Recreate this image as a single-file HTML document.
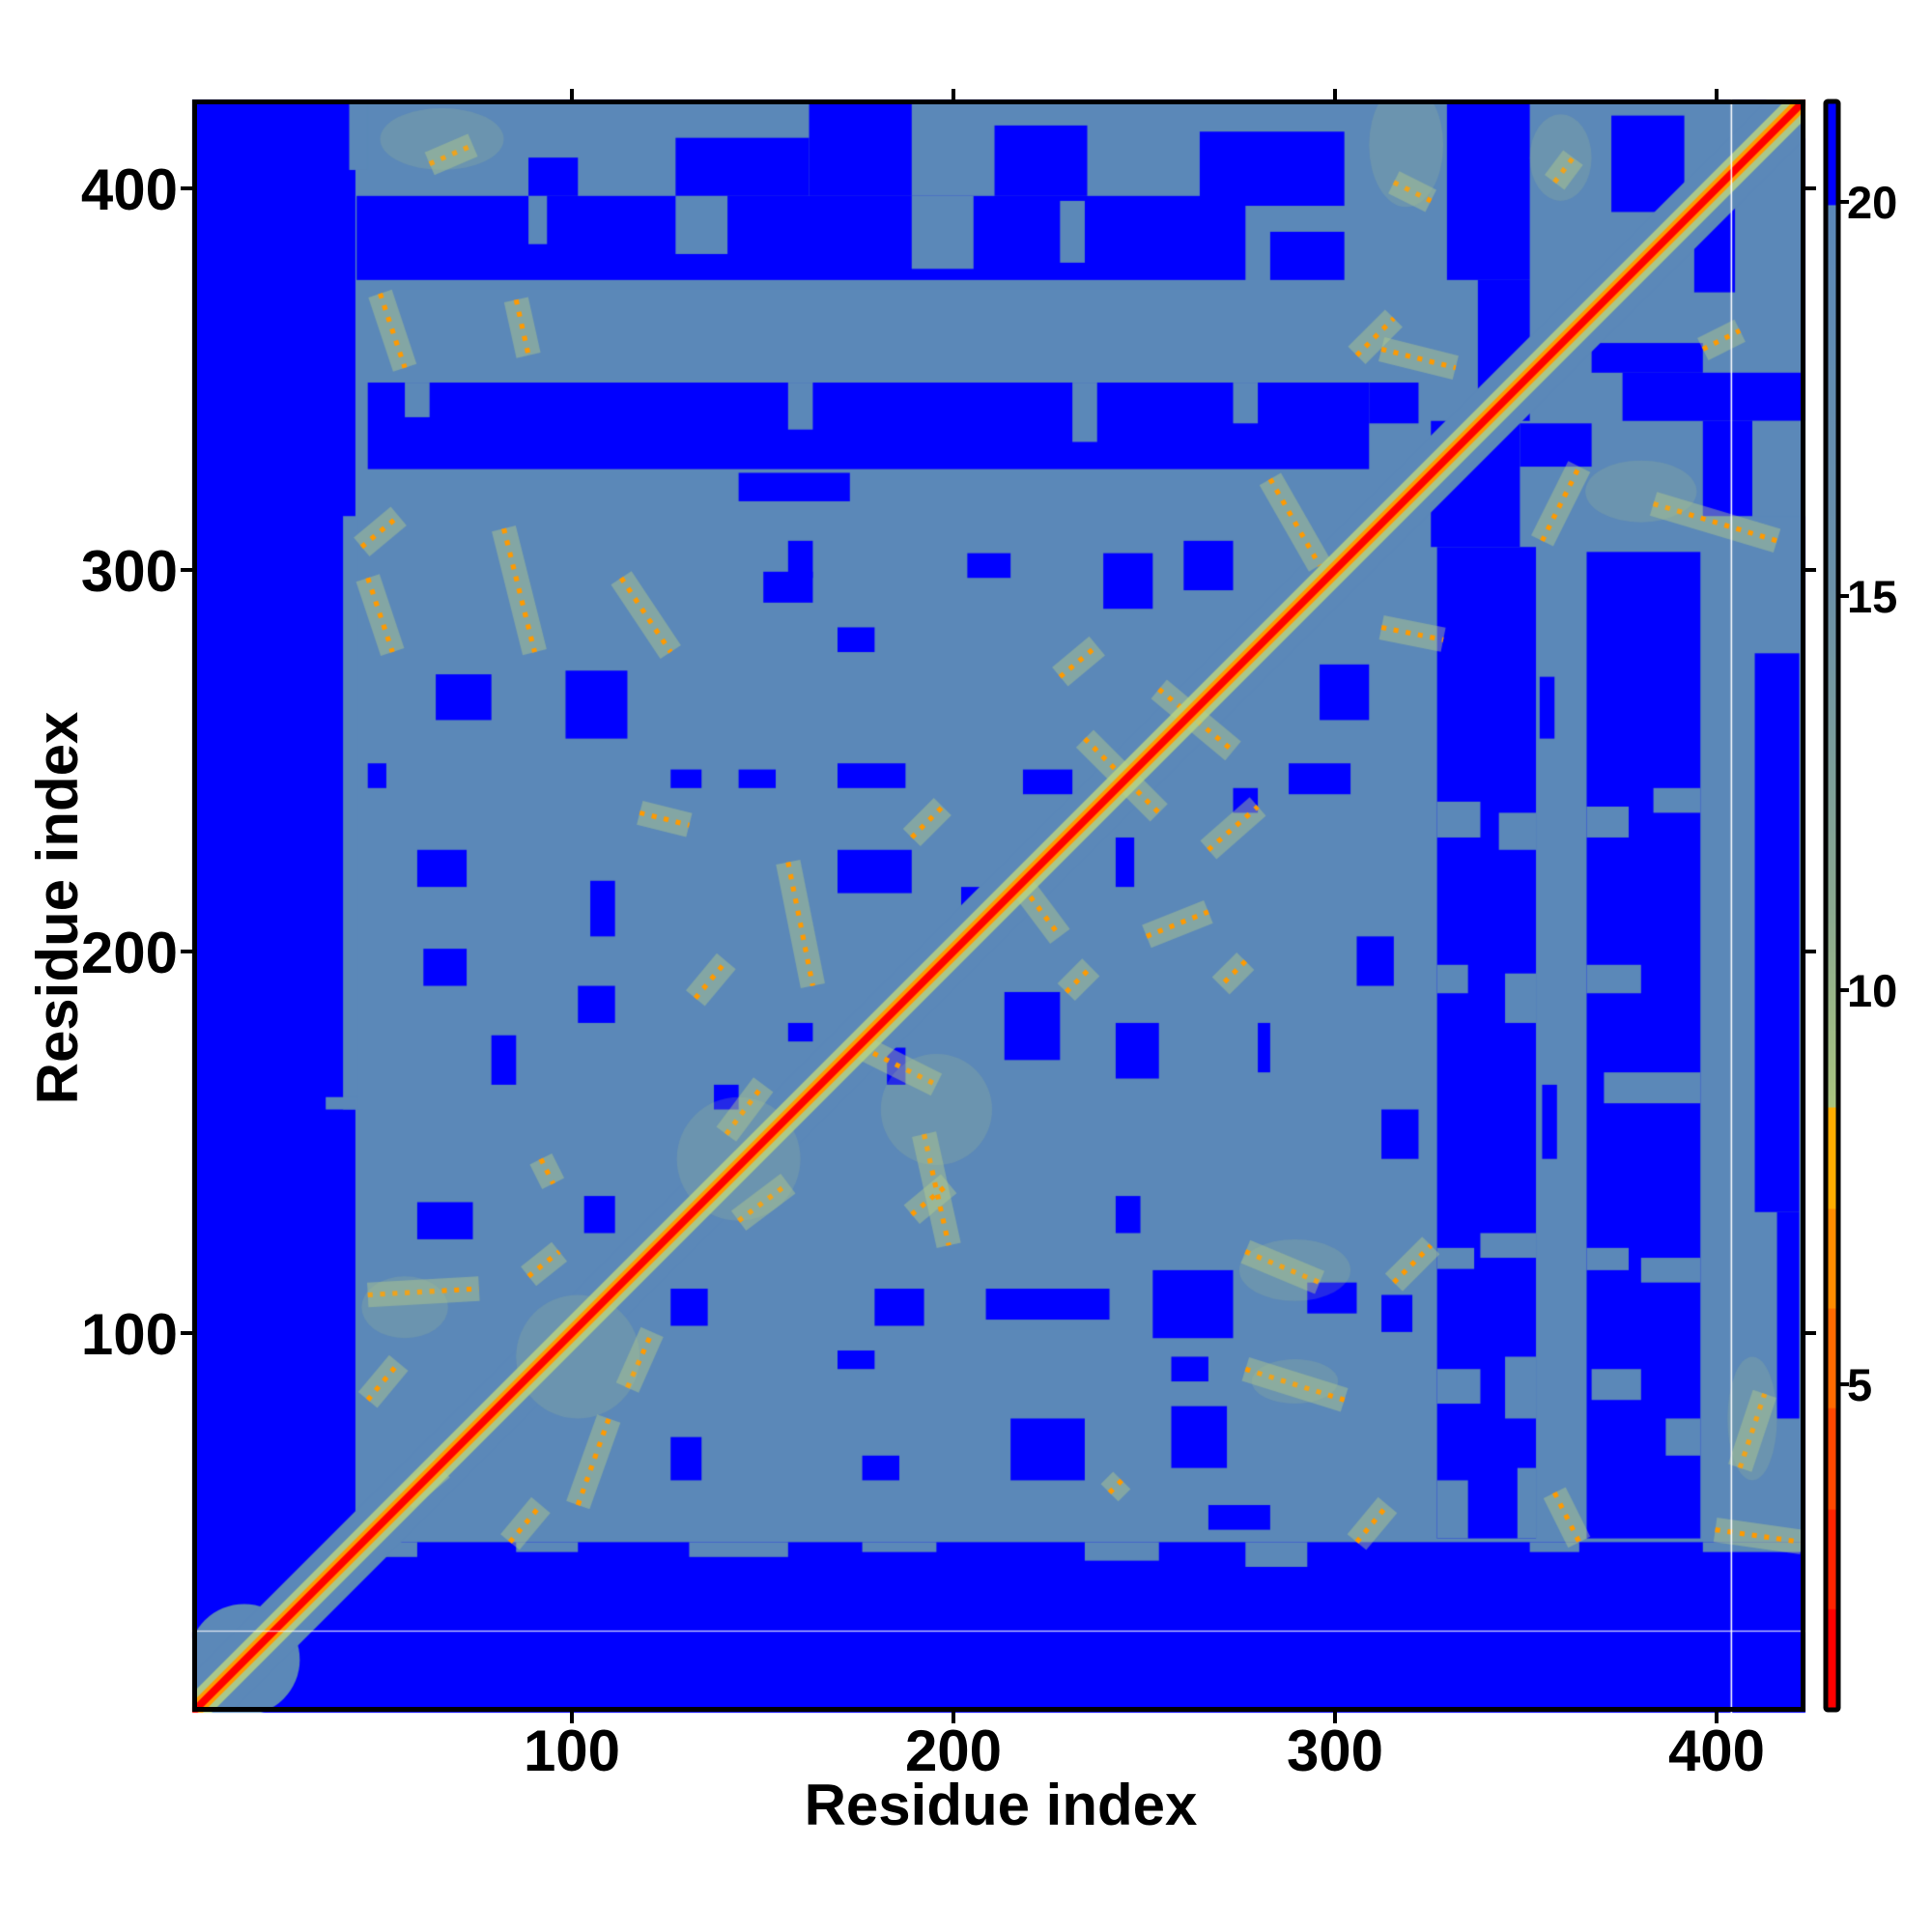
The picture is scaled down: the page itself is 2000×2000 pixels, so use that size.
<!DOCTYPE html>
<html><head><meta charset="utf-8">
<style>
html,body{margin:0;padding:0;background:#fff;}
#wrap{position:relative;width:2000px;height:2000px;overflow:hidden;background:#fff;}
canvas{position:absolute;left:0;top:0;}
svg{position:absolute;left:0;top:0;}
</style></head>
<body><div id="wrap">
<canvas id="c" width="2000" height="2000"></canvas>
<svg width="2000" height="2000" viewBox="0 0 2000 2000" xmlns="http://www.w3.org/2000/svg" font-family="Liberation Sans, Arial, sans-serif" font-weight="bold">
<defs>
<linearGradient id="cb" x1="0" y1="0" x2="0" y2="1">
<stop offset="0" stop-color="#0000ff"/>
<stop offset="0.064" stop-color="#0000ff"/>
<stop offset="0.065" stop-color="#5b88b8"/>
<stop offset="0.3" stop-color="#6a90a8"/>
<stop offset="0.5" stop-color="#8aa890"/>
<stop offset="0.625" stop-color="#a9c47f"/>
<stop offset="0.626" stop-color="#ffad00"/>
<stop offset="0.688" stop-color="#ffad00"/>
<stop offset="0.689" stop-color="#ff8c00"/>
<stop offset="0.75" stop-color="#ff8c00"/>
<stop offset="0.751" stop-color="#ff6a00"/>
<stop offset="0.812" stop-color="#ff6a00"/>
<stop offset="0.813" stop-color="#ff4800"/>
<stop offset="0.875" stop-color="#ff4800"/>
<stop offset="0.876" stop-color="#ff2400"/>
<stop offset="0.937" stop-color="#ff2400"/>
<stop offset="0.938" stop-color="#ff0000"/>
<stop offset="1" stop-color="#ff0000"/>
</linearGradient>
</defs>
<rect x="201.5" y="105.5" width="1665" height="1664" fill="none" stroke="#000" stroke-width="5"/>
<rect x="1890" y="105" width="13" height="1665" fill="url(#cb)" stroke="#000" stroke-width="5" rx="2"/>
<g stroke="#000" stroke-width="4">
<line x1="592" y1="1772" x2="592" y2="1784"/><line x1="987" y1="1772" x2="987" y2="1784"/><line x1="1382" y1="1772" x2="1382" y2="1784"/><line x1="1777" y1="1772" x2="1777" y2="1784"/>
<line x1="592" y1="103" x2="592" y2="92"/><line x1="987" y1="103" x2="987" y2="92"/><line x1="1382" y1="103" x2="1382" y2="92"/><line x1="1777" y1="103" x2="1777" y2="92"/>
<line x1="187" y1="1380" x2="199" y2="1380"/><line x1="187" y1="985" x2="199" y2="985"/><line x1="187" y1="590" x2="199" y2="590"/><line x1="187" y1="195" x2="199" y2="195"/>
<line x1="1869" y1="1380" x2="1880" y2="1380"/><line x1="1869" y1="985" x2="1880" y2="985"/><line x1="1869" y1="590" x2="1880" y2="590"/><line x1="1869" y1="195" x2="1880" y2="195"/>
<line x1="1905" y1="1433" x2="1914" y2="1433"/><line x1="1905" y1="1025" x2="1914" y2="1025"/><line x1="1905" y1="617" x2="1914" y2="617"/><line x1="1905" y1="209" x2="1914" y2="209"/>
</g>
<g font-size="60" fill="#000" text-anchor="middle">
<text x="592" y="1833">100</text><text x="987" y="1833">200</text><text x="1382" y="1833">300</text><text x="1777" y="1833">400</text>
</g>
<g font-size="60" fill="#000" text-anchor="end">
<text x="184" y="1402">100</text><text x="184" y="1007">200</text><text x="184" y="612">300</text><text x="184" y="217">400</text>
</g>
<g font-size="47" fill="#000" text-anchor="start">
<text x="1912" y="1450">5</text><text x="1912" y="1042">10</text><text x="1912" y="634">15</text><text x="1912" y="226">20</text>
</g>
<text x="1036" y="1889" font-size="60" text-anchor="middle">Residue index</text>
<text transform="translate(80,940) rotate(-90)" font-size="60" text-anchor="middle">Residue index</text>
</svg>
</div>
<script>
(function(){
var c=document.getElementById('c');var g=c.getContext('2d');
var s=1.2797;g.setTransform(s,0,0,s,199-158*s,103-83*s);
g.save();g.beginPath();g.rect(158,83,1305,1305);g.clip();
var BLUE='#0000ff',SB='#5b88b8';
g.fillStyle=BLUE;g.fillRect(158,83,1305,1305);
function R(a,col){g.fillStyle=col;for(var i=0;i<a.length;i++){var r=a[i];g.fillRect(r[0],r[1],r[2]-r[0],r[3]-r[1]);}}
R([[290,85,1460,1250],[285,85,300,140],[280,420,292,900],[266,890,292,900]],SB);
R([[300,1250,340,1262],[420,1250,470,1258],[560,1250,640,1262],[700,1250,760,1258],[880,1250,940,1265],[1010,1250,1060,1270],[1240,1250,1280,1258],[1380,1250,1460,1258]],SB);
R([[549,114,657,161],[657,83,740,161],[807,104,882,161],[973,109,1090,169],[1173,83,1240,229],[1306,96,1365,174],[1373,148,1406,239],[430,130,470,161],
[291,161,1010,229],[1030,190,1090,229],
[1198,229,1240,343],[1315,304,1463,343],[1290,280,1380,304],
[300,312,1110,382],[1110,312,1150,345],[600,385,690,408],
[1160,343,1232,445],[1232,345,1290,380],[1380,343,1420,420]],BLUE);
R([[549,161,591,208],[740,161,790,220],[430,161,445,200],[860,165,880,215],[640,312,660,350],[870,312,890,360],[1000,312,1020,345],[330,312,350,340],[1420,343,1463,420]],SB);
R([[1165,445,1245,1247],[1286,449,1378,1247],[1422,531,1458,983],[1440,983,1458,1150],[1248,550,1260,600],[1250,880,1262,940]],BLUE);
R([[1165,651,1200,680],[1215,660,1245,690],[1286,655,1320,680],[1340,640,1378,660],[1165,783,1190,806],[1220,790,1245,830],[1286,783,1330,806],[1300,870,1378,895],
[1165,1012,1195,1029],[1200,1000,1245,1020],[1286,1012,1320,1030],[1330,1020,1378,1040],[1165,1110,1200,1138],[1220,1100,1245,1150],[1290,1110,1330,1135],[1350,1150,1378,1180],[1165,1200,1190,1247],[1230,1190,1245,1247]],SB);
R([[355,548,400,585],[460,545,510,600],[895,450,935,495],[960,440,1000,480],[1070,540,1110,585],[680,510,710,530],[545,625,570,640],[600,625,630,640],[680,620,735,640],[830,625,870,645],[1045,620,1095,645],[680,690,740,725],[905,680,920,720],[480,715,500,760],[340,690,380,720],[815,805,860,860],[905,830,940,875],[470,800,500,830],[340,975,385,1005],[475,970,500,1000],[905,970,925,1000],[545,1045,575,1075],[710,1045,750,1075],[800,1045,900,1070],[935,1030,1000,1085],[1060,1040,1100,1065],[680,1095,710,1110],[545,1165,570,1200],[950,1140,995,1190],[620,465,660,490],[980,1220,1030,1240],[785,450,820,470],[400,840,420,880],[820,1150,880,1200],[640,440,660,470],[345,770,380,800],[300,620,315,640],[1020,830,1030,870],[1100,760,1130,800],[1120,900,1150,940],[700,1180,730,1200],[1000,640,1020,660],[580,880,600,900],[780,720,800,740],[640,830,660,845],[720,850,735,880],[950,1100,980,1120],[1120,1050,1145,1080]],BLUE);
g.fillStyle=SB;g.beginPath();g.ellipse(200,1345,45,45,0,0,Math.PI*2);g.fill();
g.lineCap='butt';
function L(x1,y1,x2,y2,w,col){g.strokeStyle=col;g.lineWidth=w;g.beginPath();g.moveTo(x1,y1);g.lineTo(x2,y2);g.stroke();}
L(150,1396,1471,75,44,SB);
var HC='rgba(180,205,140,0.45)';
var feats=[[295,445,325,420],[410,430,435,530],[505,470,545,530],[300,1135,325,1105],[415,1250,440,1220],[330,1215,360,1190],[470,1220,495,1150],[430,1035,455,1015],[510,1125,530,1080],[565,810,590,780],[600,990,640,960],[740,985,770,960],[865,805,885,785],[740,680,765,655],[860,550,890,525],[880,600,940,660],[940,560,1000,610],[980,690,1020,655],[1010,1110,1090,1135],[1010,1015,1070,1040],[1100,1250,1125,1220],[1120,285,1180,300],[1100,290,1130,260],[1250,440,1280,380],[1260,150,1275,130],[1380,285,1410,270],[1410,1190,1430,1130],[350,135,385,120],[1130,150,1160,165],[520,660,560,670],[900,1210,910,1200],[1340,410,1440,440],[1030,390,1070,460],[1120,510,1170,520],[1010,780,990,800],[300,1050,390,1045],[930,760,980,740],[590,920,620,880],[640,700,660,800],[700,850,760,880],[750,920,770,1010],[440,940,450,960],[830,720,860,760],[300,470,320,530],[310,240,330,300],[420,245,430,290],[1130,1040,1160,1010],[1260,1210,1280,1250],[1390,1240,1460,1250]];
for(var i=0;i<feats.length;i++){var f=feats[i];L(f[0],f[1],f[2],f[3],20,HC);}
for(var i=0;i<feats.length;i++){var f=feats[i];g.setLineDash([4,6]);L(f[0],f[1],f[2],f[3],4,'#ff9a00');g.setLineDash([]);}
var blobs=[[360,115,50,25],[1140,120,30,50],[1265,130,25,35],[1330,400,45,25],[470,1100,50,50],[600,940,50,50],[760,900,45,45],[1050,1030,45,25],[1050,1120,35,18],[330,1060,35,25],[1420,1150,20,50]];
g.fillStyle='rgba(175,200,140,0.2)';
for(var i=0;i<blobs.length;i++){var b=blobs[i];g.beginPath();g.ellipse(b[0],b[1],b[2],b[3],0,0,Math.PI*2);g.fill();}
L(150,1396,1471,75,22,'rgba(185,212,130,0.85)');
L(150,1396,1471,75,12,'#ff9a00');
L(150,1396,1471,75,6,'#ff0000');
g.fillStyle='#ffffff';g.fillRect(1402.5,83,1.2,1305);
g.fillStyle='rgba(255,255,255,0.8)';g.fillRect(158,1321.5,1305,1);
g.restore();
})();
</script>
</body></html>
